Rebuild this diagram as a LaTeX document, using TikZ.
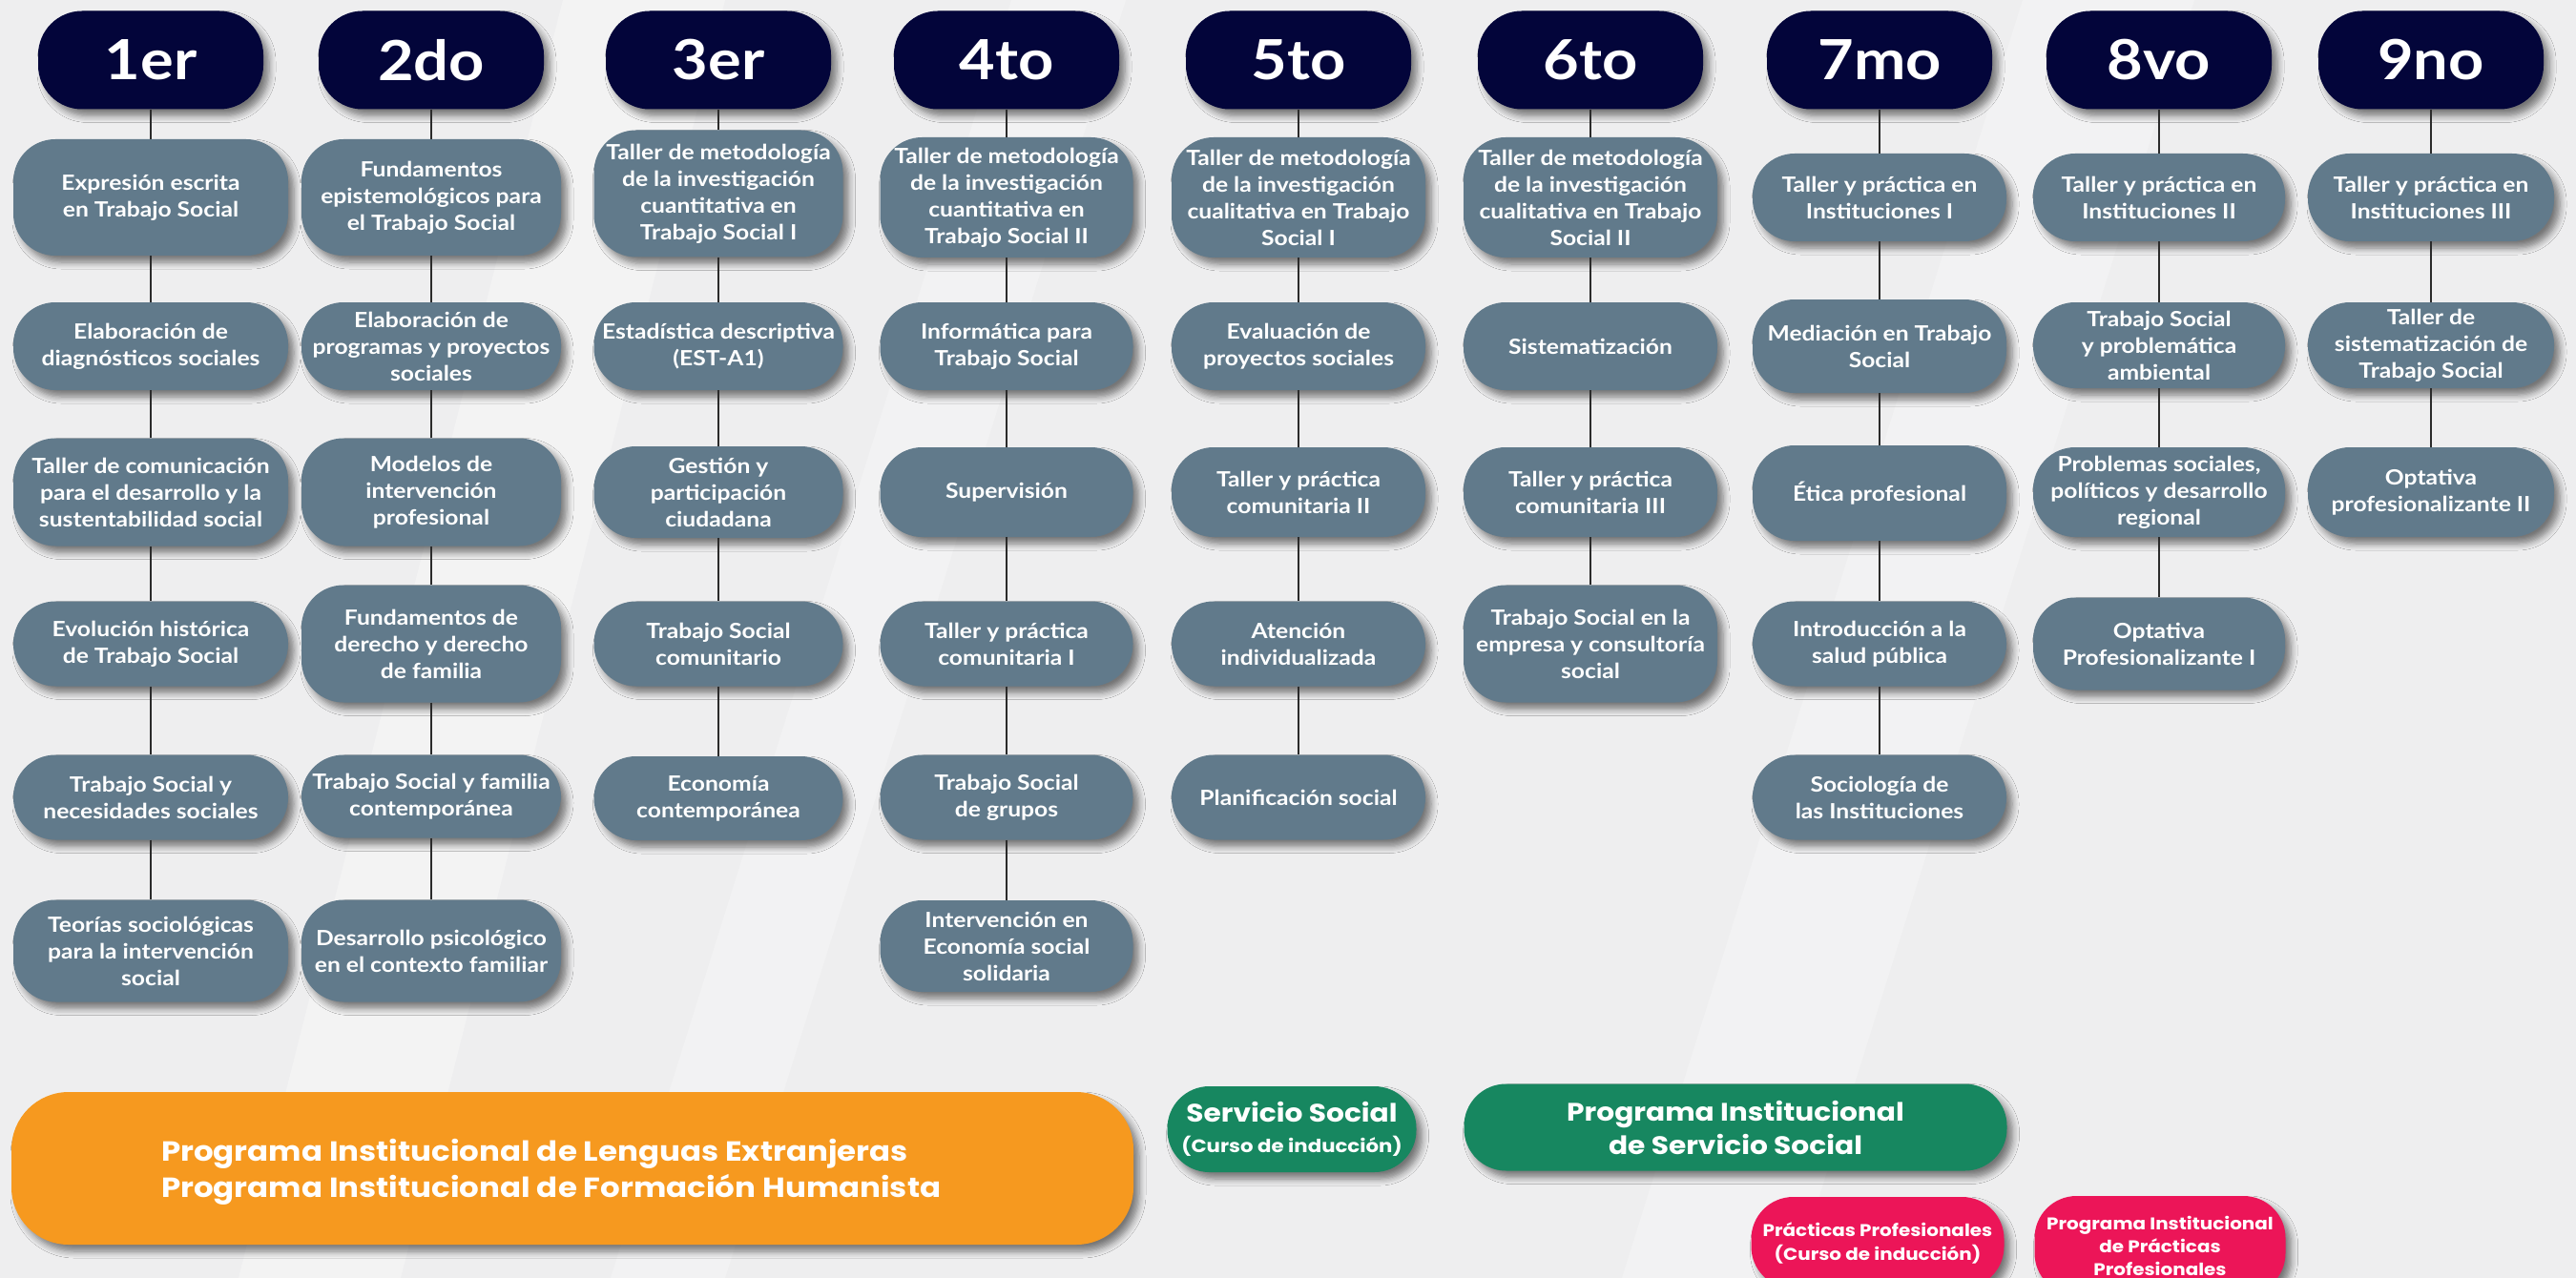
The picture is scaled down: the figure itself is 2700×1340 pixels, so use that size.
\documentclass[tikz,border=0pt]{standalone}
\usepackage{fontspec}
\setmainfont{Lato}[FakeStretch=1.12]
\newfontfamily\poppins{Poppins}[FakeStretch=1.12]
\usetikzlibrary{shadows.blur}
\definecolor{fondo}{HTML}{EEEEEF}
\definecolor{marino}{HTML}{03053A}
\definecolor{pizarra}{HTML}{617A8B}
\definecolor{naranja}{HTML}{F6991F}
\definecolor{verde}{HTML}{178760}
\definecolor{rosa}{HTML}{EC1558}
\definecolor{linea}{HTML}{2B2B2B}

\begin{document}
\begin{tikzpicture}[x=1pt,y=-1pt,
    sombra/.style={blur shadow={shadow xshift=6pt,shadow yshift=-7pt,
        shadow blur radius=7pt,shadow opacity=50,shadow blur steps=6}},
    semestre/.style={sombra,fill=marino,text=white,rounded corners=46pt,
        minimum width=236pt,minimum height=103pt,
        font=\fontsize{58}{62}\selectfont\bfseries},
    materia/.style={sombra,fill=pizarra,text=white,rounded corners=44pt,
        minimum width=#1,minimum height=92pt,inner sep=2pt,align=center,
        font=\fontsize{22}{28}\selectfont\bfseries},
    materia/.default=266pt,
    programa/.style={sombra,text=white,rounded corners=44pt,align=center,
        inner sep=2pt,font=\poppins\bfseries\fontsize{26.5}{35}\selectfont},
    enlace/.style={draw=linea,line width=2pt}]
  \useasboundingbox (0,0) rectangle (2700,1340);
  \fill[fondo] (0,0) rectangle (2700,1340);% background
  \fill[white,opacity=.3] (250,1340) -- (420,1340) -- (760,0) -- (590,0) -- cycle;
  \fill[white,opacity=.25] (640,1340) -- (760,1340) -- (1180,0) -- (1060,0) -- cycle;
  \fill[white,opacity=.25] (1700,1340) -- (1880,1340) -- (2300,0) -- (2120,0) -- cycle;
  % semesters
  \foreach \n/\x/\t in {1/158/1er,2/452/2do,3/753/3er,4/1055/4to,5/1361/5to,
                        6/1667/6to,7/1970/7mo,8/2263/8vo,9/2548/9no}{
    \node[semestre] (s\n) at (\x,63) {\t};}
  % 1er
  \node[materia=288pt,minimum height=122pt] (c1a) at (158,207) {Expresión escrita\\en Trabajo Social};
  \node[materia=288pt] (c1b) at (158,363) {Elaboración de\\diagnósticos sociales};
  \node[materia=288pt,minimum height=113pt] (c1c) at (158,516) {Taller de comunicación\\para el desarrollo y la\\sustentabilidad social};
  \node[materia=288pt,minimum height=89pt] (c1d) at (158,675) {Evolución histórica\\de Trabajo Social};
  \node[materia=288pt,minimum height=89pt] (c1e) at (158,836) {Trabajo Social y\\necesidades sociales};
  \node[materia=288pt,minimum height=107pt] (c1f) at (158,997) {Teorías sociológicas\\para la intervención\\social};
  % 2do
  \node[materia=272pt,minimum height=122pt] (c2a) at (452,207) {Fundamentos\\epistemológicos para\\el Trabajo Social};
  \node[materia=272pt] (c2b) at (452,363) {Elaboración de\\programas y proyectos\\sociales};
  \node[materia=272pt,minimum height=113pt] (c2c) at (452,516) {Modelos de\\intervención\\profesional};
  \node[materia=272pt,minimum height=123pt] (c2d) at (452,675) {Fundamentos de\\derecho y derecho\\de familia};
  \node[materia=272pt,minimum height=87pt] (c2e) at (452,835) {Trabajo Social y familia\\contemporánea};
  \node[materia=272pt,minimum height=107pt] (c2f) at (452,997) {Desarrollo psicológico\\en el contexto familiar};
  % 3er
  \node[materia=261pt,minimum height=133pt] (c3a) at (753,203) {Taller de metodología\\de la investigación\\cuantitativa en\\Trabajo Social I};
  \node[materia=261pt] (c3b) at (753,363) {Estadística descriptiva\\(EST-A1)};
  \node[materia=261pt,minimum height=96pt] (c3c) at (753,516) {Gestión y\\participación\\ciudadana};
  \node[materia=261pt,minimum height=89pt] (c3d) at (753,675) {Trabajo Social\\comunitario};
  \node[materia=261pt,minimum height=88pt] (c3e) at (753,837) {Economía\\contemporánea};
  % 4to
  \node[materia=265pt,minimum height=126pt] (c4a) at (1055,207) {Taller de metodología\\de la investigación\\cuantitativa en\\Trabajo Social II};
  \node[materia=265pt] (c4b) at (1055,363) {Informática para\\Trabajo Social};
  \node[materia=265pt,minimum height=94pt] (c4c) at (1055,516) {Supervisión};
  \node[materia=265pt,minimum height=89pt] (c4d) at (1055,675) {Taller y práctica\\comunitaria I};
  \node[materia=265pt,minimum height=89pt] (c4e) at (1055,836) {Trabajo Social\\de grupos};
  \node[materia=265pt,minimum height=96pt] (c4f) at (1055,992) {Intervención en\\Economía social\\solidaria};
  % 5to
  \node[materia,minimum height=126pt] (c5a) at (1361,207) {Taller de metodología\\de la investigación\\cualitativa en Trabajo\\Social I};
  \node[materia] (c5b) at (1361,363) {Evaluación de\\proyectos sociales};
  \node[materia,minimum height=94pt] (c5c) at (1361,516) {Taller y práctica\\comunitaria II};
  \node[materia,minimum height=89pt] (c5d) at (1361,675) {Atención\\individualizada};
  \node[materia,minimum height=89pt] (c5e) at (1361,836) {Planificación social};
  % 6to
  \node[materia,minimum height=126pt] (c6a) at (1667,207) {Taller de metodología\\de la investigación\\cualitativa en Trabajo\\Social II};
  \node[materia] (c6b) at (1667,363) {Sistematización};
  \node[materia,minimum height=94pt] (c6c) at (1667,516) {Taller y práctica\\comunitaria III};
  \node[materia,minimum height=123pt] (c6d) at (1667,675) {Trabajo Social en la\\empresa y consultoría\\social};
  % 7mo
  \node[materia] (c7a) at (1970,207) {Taller y práctica en\\Instituciones I};
  \node[materia,minimum height=98pt] (c7b) at (1970,363) {Mediación en Trabajo\\Social};
  \node[materia,minimum height=100pt] (c7c) at (1970,517) {Ética profesional};
  \node[materia,minimum height=89pt] (c7d) at (1970,675) {Introducción a la\\salud pública};
  \node[materia,minimum height=89pt] (c7e) at (1970,836) {Sociología de\\las Instituciones};
  % 8vo
  \node[materia=264pt] (c8a) at (2263,207) {Taller y práctica en\\Instituciones II};
  \node[materia=264pt,minimum height=90pt] (c8b) at (2263,362) {Trabajo Social\\y problemática\\ambiental};
  \node[materia=264pt,minimum height=94pt] (c8c) at (2263,516) {Problemas sociales,\\políticos y desarrollo\\regional};
  \node[materia=264pt,minimum height=97pt] (c8d) at (2263,675) {Optativa\\Profesionalizante I};
  % 9no
  \node[materia=258pt] (c9a) at (2548,207) {Taller y práctica en\\Instituciones III};
  \node[materia=258pt,minimum height=90pt] (c9b) at (2548,362) {Taller de\\sistematización de\\Trabajo Social};
  \node[materia=258pt,minimum height=94pt] (c9c) at (2548,516) {Optativa\\profesionalizante II};
  % links
  \draw[enlace] (s1) -- (c1a) -- (c1b) -- (c1c) -- (c1d) -- (c1e) -- (c1f);
  \draw[enlace] (s2) -- (c2a) -- (c2b) -- (c2c) -- (c2d) -- (c2e) -- (c2f);
  \draw[enlace] (s3) -- (c3a) -- (c3b) -- (c3c) -- (c3d) -- (c3e);
  \draw[enlace] (s4) -- (c4a) -- (c4b) -- (c4c) -- (c4d) -- (c4e) -- (c4f);
  \draw[enlace] (s5) -- (c5a) -- (c5b) -- (c5c) -- (c5d) -- (c5e);
  \draw[enlace] (s6) -- (c6a) -- (c6b) -- (c6c) -- (c6d);
  \draw[enlace] (s7) -- (c7a) -- (c7b) -- (c7c) -- (c7d) -- (c7e);
  \draw[enlace] (s8) -- (c8a) -- (c8b) -- (c8c) -- (c8d);
  \draw[enlace] (s9) -- (c9a) -- (c9b) -- (c9c);
  % institutional programs
  \node[programa,fill=naranja,rounded corners=60pt,minimum width=1176pt,
        minimum height=160pt] (lenguas) at (600,1225) {};
  \node[text=white,anchor=west,align=left,inner sep=0pt,
        font=\poppins\bfseries\fontsize{29}{38}\selectfont] (lenguasTexto)
        at ([xshift=157pt,yshift=-4pt]lenguas.west)
        {Programa Institucional de Lenguas Extranjeras\\Programa Institucional de Formación Humanista};
  \node[programa,fill=verde,minimum width=261pt,minimum height=90pt] (ssCurso) at (1354,1184)
        {\fontsize{26.5}{28}\selectfont Servicio Social\\[-3pt]\fontsize{19}{22}\selectfont(Curso de inducción)};
  \node[programa,fill=verde,minimum width=569pt,minimum height=91pt] (ssProg) at (1819,1182)
        {Programa Institucional\\de Servicio Social};
  \node[programa,fill=rosa,minimum width=265pt,minimum height=96pt,
        font=\poppins\bfseries\fontsize{17.8}{25}\selectfont] (ppCurso) at (1968,1303)
        {Prácticas Profesionales\\(Curso de inducción)};
  \node[programa,fill=rosa,minimum width=263pt,minimum height=104pt,
        font=\poppins\bfseries\fontsize{17.8}{24}\selectfont] (ppProg) at (2264,1306)
        {Programa Institucional\\de Prácticas\\Profesionales};
\end{tikzpicture}
\end{document}
